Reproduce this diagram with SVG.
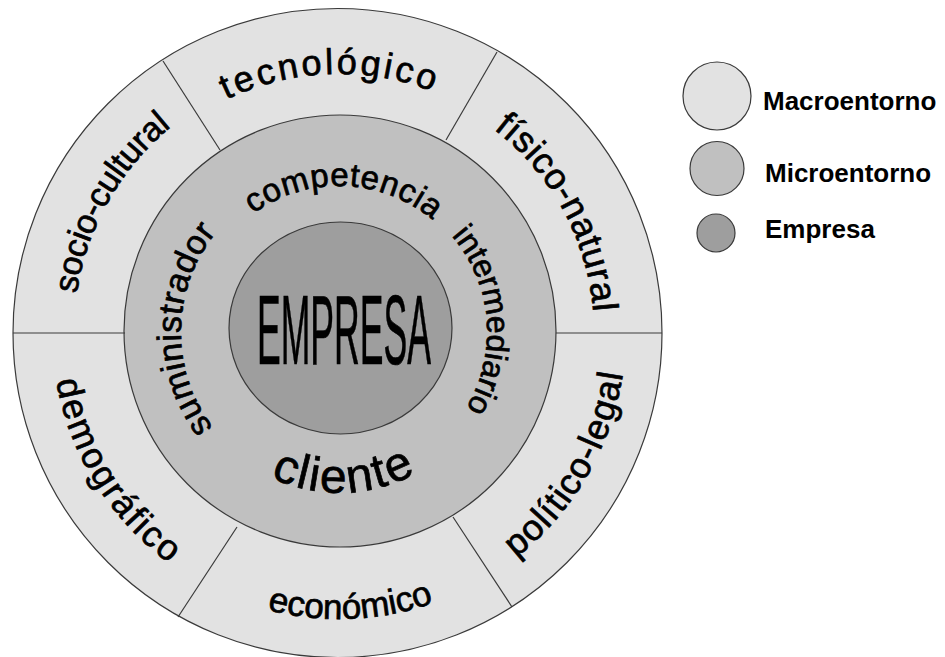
<svg xmlns="http://www.w3.org/2000/svg" width="945" height="657" viewBox="0 0 945 657">
<style>
.ring{stroke:#3a3a3a;stroke-width:1.2}
.macro{fill:#e2e2e2}
.micro{fill:#c0c0c0}
.emp{fill:#9e9e9e}
.div{stroke:#3a3a3a;stroke-width:1.2;fill:none}
.t{font-family:"Liberation Sans",Arial,sans-serif;fill:#000;stroke:#000;stroke-width:0.7}
.lg{font-family:"Liberation Sans",Arial,sans-serif;font-weight:bold;font-size:26px;fill:#000}
</style>
<defs>
<path id="p-tec" d="M111.2,210.9 A258,258 0 0 1 557.8,195.3"/>
<path id="p-fis" d="M345.7,77.1 A255,255 0 0 1 556.4,465.2"/>
<path id="p-pol" d="M339,619 A287,287 0 0 0 587.5,188.5"/>
<path id="p-eco" d="M96.7,485.8 A287,287 0 0 0 593.3,465"/>
<path id="p-dem" d="M85.6,197.3 A287,287 0 0 0 349,618.8"/>
<path id="p-soc" d="M110.7,466.5 A265,265 0 0 1 336.7,67"/>
<path id="p-com" d="M215.2,254.6 A146,146 0 0 1 467.9,263.5"/>
<path id="p-int" d="M402.3,198.2 A148,148 0 0 1 423.3,453.7"/>
<path id="p-cli" d="M202.5,417.3 A161,161 0 0 0 481.1,407.6"/>
<path id="p-sum" d="M257.6,467.4 A158,158 0 0 1 262.4,193.8"/>
</defs>

<g id="macroentorno">
<circle class="ring macro" cx="337.5" cy="333" r="324.5"/>
</g>
<g id="microentorno">
<circle class="ring micro" cx="340" cy="331" r="216"/>
</g>
<g id="connectors">
<line class="div" x1="13" y1="333" x2="125" y2="333"/>
<line class="div" x1="556" y1="333" x2="662" y2="333"/>
<line class="div" x1="163" y1="61" x2="220" y2="150"/>
<line class="div" x1="497" y1="52" x2="446" y2="140"/>
<line class="div" x1="237" y1="527" x2="178" y2="617"/>
<line class="div" x1="453" y1="517" x2="512" y2="607"/>
</g>
<g id="empresa">
<ellipse class="ring emp" cx="340.5" cy="328" rx="111.5" ry="106"/>
<text class="t" x="257" y="364" font-size="99" stroke-width="1.2" textLength="174" lengthAdjust="spacingAndGlyphs">EMPRESA</text>
</g>

<g id="macro-labels">
<g id="tecnologico"><text class="t" font-size="36" letter-spacing="3"><textPath href="#p-tec" startOffset="50%" text-anchor="middle">tecnológico</textPath></text></g>
<g id="fisico-natural"><text class="t" font-size="36" letter-spacing="0.6"><textPath href="#p-fis" startOffset="50%" text-anchor="middle">físico-natural</textPath></text></g>
<g id="politico-legal"><text class="t" font-size="36" letter-spacing="1.2"><textPath href="#p-pol" startOffset="50%" text-anchor="middle">político-legal</textPath></text></g>
<g id="economico"><text class="t" font-size="35"><textPath href="#p-eco" startOffset="50%" text-anchor="middle">económico</textPath></text></g>
<g id="demografico"><text class="t" font-size="36" letter-spacing="2.2"><textPath href="#p-dem" startOffset="50%" text-anchor="middle">demográfico</textPath></text></g>
<g id="socio-cultural"><text class="t" font-size="34" letter-spacing="-0.3"><textPath href="#p-soc" startOffset="50%" text-anchor="middle">socio-cultural</textPath></text></g>
</g>

<g id="micro-labels">
<g id="competencia"><text class="t" font-size="33" letter-spacing="0.6"><textPath href="#p-com" startOffset="50%" text-anchor="middle">competencia</textPath></text></g>
<g id="intermediario"><text class="t" font-size="32"><textPath href="#p-int" startOffset="50%" text-anchor="middle">intermediario</textPath></text></g>
<g id="cliente"><text class="t" font-size="48" letter-spacing="2" stroke-width="0.9"><textPath href="#p-cli" startOffset="50%" text-anchor="middle">cliente</textPath></text></g>
<g id="suministrador"><text class="t" font-size="34" letter-spacing="0.5"><textPath href="#p-sum" startOffset="50%" text-anchor="middle">suministrador</textPath></text></g>
</g>

<g id="legend">
<g id="legend-macro"><circle class="ring macro" cx="717" cy="96" r="34"/><text class="lg" x="763" y="110">Macroentorno</text></g>
<g id="legend-micro"><circle class="ring micro" cx="717" cy="168.5" r="27"/><text class="lg" x="765" y="182">Microentorno</text></g>
<g id="legend-empresa"><circle class="ring emp" cx="716" cy="233" r="19"/><text class="lg" x="765" y="238">Empresa</text></g>
</g>
</svg>
